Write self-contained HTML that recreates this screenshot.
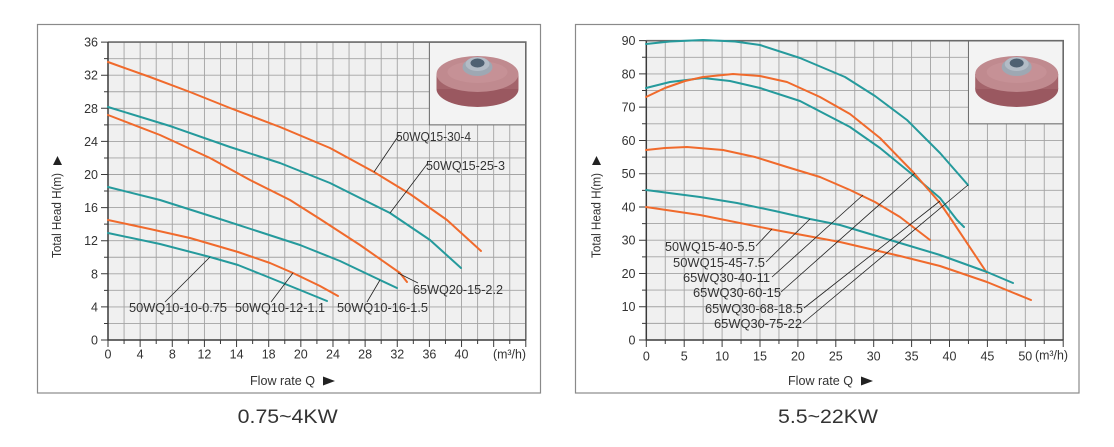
<!DOCTYPE html>
<html><head><meta charset="utf-8"><style>
html,body{margin:0;padding:0;background:#fff;}
svg{display:block;}
text{font-family:"Liberation Sans",sans-serif;fill:#333;}
.t{font-size:12.5px;}
.lab{font-size:12.5px;fill:#2a2a2a;}
</style></head><body>
<svg width="1114" height="447" viewBox="0 0 1114 447" xmlns="http://www.w3.org/2000/svg">
<!-- frames -->
<rect x="37.5" y="24.5" width="503" height="368.5" fill="#fff" stroke="#8a8a8a" stroke-width="1.2"/>
<rect x="575.5" y="24.5" width="503.5" height="368.5" fill="#fff" stroke="#8a8a8a" stroke-width="1.2"/>

<!-- ============ LEFT CHART ============ -->
<rect x="108" y="42.1" width="417.8" height="297.9" fill="#f0f0f0"/>
<path stroke="#a3a3a3" stroke-width="0.9" fill="none" d="
M124.07 42.1V340M140.14 42.1V340M156.21 42.1V340M172.28 42.1V340M188.35 42.1V340M204.42 42.1V340M220.49 42.1V340M236.56 42.1V340M252.63 42.1V340M268.7 42.1V340M284.77 42.1V340M300.84 42.1V340M316.91 42.1V340M332.98 42.1V340M349.05 42.1V340M365.12 42.1V340M381.19 42.1V340M397.26 42.1V340M413.33 42.1V340M429.4 42.1V340M445.47 42.1V340M461.54 42.1V340M477.61 42.1V340M493.68 42.1V340M509.75 42.1V340
M108 323.45H525.8M108 306.9H525.8M108 290.35H525.8M108 273.8H525.8M108 257.25H525.8M108 240.7H525.8M108 224.15H525.8M108 207.6H525.8M108 191.05H525.8M108 174.5H525.8M108 157.95H525.8M108 141.4H525.8M108 124.85H525.8M108 108.3H525.8M108 91.75H525.8M108 75.2H525.8M108 58.65H525.8"/>
<!-- photo box -->
<rect x="429.4" y="42.1" width="96.4" height="82.75" fill="#f3f3f3" stroke="#6a6a6a" stroke-width="1"/>
<g>
<ellipse cx="477.5" cy="89" rx="41" ry="18" fill="#9a5860"/>
<rect x="436.5" y="74" width="82" height="15" fill="#a4646b"/>
<ellipse cx="477.5" cy="74" rx="41" ry="18" fill="#c08a8f"/>
<ellipse cx="477.5" cy="72" rx="30" ry="11" fill="#c99499" opacity="0.7"/>
<ellipse cx="477.5" cy="67" rx="15" ry="9" fill="#9ea8b3"/>
<ellipse cx="477.5" cy="64" rx="12" ry="7" fill="#b3bcc6"/>
<ellipse cx="477.5" cy="63" rx="7" ry="4.5" fill="#4f6172"/>
</g>
<!-- borders / axes -->
<path d="M108 42.1H525.8V340" stroke="#6a6a6a" stroke-width="1.6" fill="none"/>
<path d="M108 42.1V340H525.8" stroke="#3a3a3a" stroke-width="1.5" fill="none"/>
<!-- ticks -->
<path stroke="#3a3a3a" stroke-width="1" fill="none" d="
M101 340H108M101 306.9H108M101 273.8H108M101 240.7H108M101 207.6H108M101 174.5H108M101 141.4H108M101 108.3H108M101 75.2H108M101 42.1H108
M104 323.45H108M104 290.35H108M104 257.25H108M104 224.15H108M104 191.05H108M104 157.95H108M104 124.85H108M104 91.75H108M104 58.65H108
M108 340V347M140.14 340V347M172.28 340V347M204.42 340V347M236.56 340V347M268.7 340V347M300.84 340V347M332.98 340V347M365.12 340V347M397.26 340V347M429.4 340V347M461.54 340V347M493.68 340V347M525.8 340V347
M124.07 340V344M156.21 340V344M188.35 340V344M220.49 340V344M252.63 340V344M284.77 340V344M316.91 340V344M349.05 340V344M381.19 340V344M413.33 340V344M445.47 340V344M477.61 340V344M509.75 340V344"/>
<!-- y labels -->
<g class="t" text-anchor="end">
<text x="98" y="344.5">0</text><text x="98" y="311.4">4</text><text x="98" y="278.3">8</text>
<text x="98" y="245.2">12</text><text x="98" y="212.1">16</text><text x="98" y="179">20</text>
<text x="98" y="145.9">24</text><text x="98" y="112.8">28</text><text x="98" y="79.7">32</text><text x="98" y="46.6">36</text>
</g>
<g class="t" text-anchor="middle">
<text x="108" y="358.5">0</text><text x="140.1" y="358.5">4</text><text x="172.3" y="358.5">8</text>
<text x="204.4" y="358.5">12</text><text x="236.6" y="358.5">14</text><text x="268.7" y="358.5">18</text>
<text x="300.8" y="358.5">20</text><text x="333" y="358.5">24</text><text x="365.1" y="358.5">28</text>
<text x="397.3" y="358.5">32</text><text x="429.4" y="358.5">36</text><text x="461.5" y="358.5">40</text>
</g>
<text class="t" x="493" y="358.5" textLength="33" lengthAdjust="spacingAndGlyphs">(m³/h)</text>
<text class="t" x="250" y="385" textLength="65" lengthAdjust="spacingAndGlyphs">Flow rate Q</text>
<polygon points="323,376.5 335,381 323,385.5" fill="#222"/>
<text class="t" transform="translate(61,258) rotate(-90)" textLength="85" lengthAdjust="spacingAndGlyphs">Total Head H(m)</text>
<polygon points="57.5,156 53,165 62,165" fill="#222"/>
<text x="237.7" y="423" font-size="19" textLength="100" lengthAdjust="spacingAndGlyphs">0.75~4KW</text>

<!-- curves left -->
<g fill="none" stroke-width="2" stroke-linejoin="round" stroke-linecap="round">
<polyline stroke="#f06a2c" points="108,62 150,77 190,92 230,108 280,127 330,148 374,172 410,194 447,220 481,251"/>
<polyline stroke="#259a9c" points="108,107 170,126 230,147 280,163 330,183 390,213 430,240 461,268"/>
<polyline stroke="#f06a2c" points="108,115 160,135 210,158 250,180 290,200 320,219 360,245 400,273 407,282"/>
<polyline stroke="#259a9c" points="108,187 160,200 223,220 260,232 300,245 340,261 380,280 397,288"/>
<polyline stroke="#f06a2c" points="108,220 150,229 190,238 238,252 270,263 293,273 320,286 338,296"/>
<polyline stroke="#259a9c" points="108,233 160,244 210,257 238,265 263,275 300,290 327,301"/>
</g>
<!-- leaders left -->
<g stroke="#222" stroke-width="0.8" fill="none">
<path d="M165 302L210 257M271 302L293 273M367 302L380 280M418 283L398 273M399 135L374 172M428 163L390 213"/>
</g>
<g class="lab">
<text x="129" y="312" textLength="98" lengthAdjust="spacingAndGlyphs">50WQ10-10-0.75</text>
<text x="235" y="312" textLength="90" lengthAdjust="spacingAndGlyphs">50WQ10-12-1.1</text>
<text x="337" y="312" textLength="91" lengthAdjust="spacingAndGlyphs">50WQ10-16-1.5</text>
<text x="413" y="294" textLength="90" lengthAdjust="spacingAndGlyphs">65WQ20-15-2.2</text>
<text x="396" y="141" textLength="75" lengthAdjust="spacingAndGlyphs">50WQ15-30-4</text>
<text x="426" y="170" textLength="79" lengthAdjust="spacingAndGlyphs">50WQ15-25-3</text>
</g>

<!-- ============ RIGHT CHART ============ -->
<rect x="646.3" y="40.66" width="416.9" height="299.34" fill="#f0f0f0"/>
<path stroke="#a3a3a3" stroke-width="0.9" fill="none" d="
M665.25 40.66V340M684.2 40.66V340M703.15 40.66V340M722.1 40.66V340M741.05 40.66V340M760 40.66V340M778.95 40.66V340M797.9 40.66V340M816.85 40.66V340M835.8 40.66V340M854.75 40.66V340M873.7 40.66V340M892.65 40.66V340M911.6 40.66V340M930.55 40.66V340M949.5 40.66V340M968.45 40.66V340M987.4 40.66V340M1006.35 40.66V340M1025.3 40.66V340M1044.25 40.66V340
M646.3 323.37H1063.2M646.3 306.74H1063.2M646.3 290.11H1063.2M646.3 273.48H1063.2M646.3 256.85H1063.2M646.3 240.22H1063.2M646.3 223.59H1063.2M646.3 206.96H1063.2M646.3 190.33H1063.2M646.3 173.7H1063.2M646.3 157.07H1063.2M646.3 140.44H1063.2M646.3 123.81H1063.2M646.3 107.18H1063.2M646.3 90.55H1063.2M646.3 73.92H1063.2M646.3 57.29H1063.2"/>
<rect x="968.45" y="40.66" width="94.75" height="83.15" fill="#f3f3f3" stroke="#6a6a6a" stroke-width="1"/>
<g>
<ellipse cx="1016.7" cy="89" rx="41.5" ry="18" fill="#9a5860"/>
<rect x="975.2" y="74" width="83" height="15" fill="#a4646b"/>
<ellipse cx="1016.7" cy="74" rx="41.5" ry="18" fill="#c08a8f"/>
<ellipse cx="1016.7" cy="72" rx="30" ry="11" fill="#c99499" opacity="0.7"/>
<ellipse cx="1016.7" cy="67" rx="15" ry="9" fill="#9ea8b3"/>
<ellipse cx="1016.7" cy="64" rx="12" ry="7" fill="#b3bcc6"/>
<ellipse cx="1016.7" cy="63" rx="7" ry="4.5" fill="#4f6172"/>
</g>
<path d="M646.3 40.66H1063.2V340" stroke="#6a6a6a" stroke-width="1.6" fill="none"/>
<path d="M646.3 40.66V340H1063.2" stroke="#3a3a3a" stroke-width="1.5" fill="none"/>
<path stroke="#3a3a3a" stroke-width="1" fill="none" d="
M639 340H646.3M639 306.74H646.3M639 273.48H646.3M639 240.22H646.3M639 206.96H646.3M639 173.7H646.3M639 140.44H646.3M639 107.18H646.3M639 73.92H646.3M639 40.66H646.3
M642 323.37H646.3M642 290.11H646.3M642 256.85H646.3M642 223.59H646.3M642 190.33H646.3M642 157.07H646.3M642 123.81H646.3M642 90.55H646.3M642 57.29H646.3
M646.3 340V347M684.2 340V347M722.1 340V347M760 340V347M797.9 340V347M835.8 340V347M873.7 340V347M911.6 340V347M949.5 340V347M987.4 340V347M1025.3 340V347M1063.2 340V347
M665.25 340V344M703.15 340V344M741.05 340V344M778.95 340V344M816.85 340V344M854.75 340V344M892.65 340V344M930.55 340V344M968.45 340V344M1006.35 340V344M1044.25 340V344"/>
<g class="t" text-anchor="end">
<text x="635.5" y="344.5">0</text><text x="635.5" y="311.2">10</text><text x="635.5" y="278">20</text>
<text x="635.5" y="244.7">30</text><text x="635.5" y="211.5">40</text><text x="635.5" y="178.2">50</text>
<text x="635.5" y="144.9">60</text><text x="635.5" y="111.7">70</text><text x="635.5" y="78.4">80</text><text x="635.5" y="45.2">90</text>
</g>
<g class="t" text-anchor="middle">
<text x="646.3" y="360.5">0</text><text x="684.2" y="360.5">5</text><text x="722.1" y="360.5">10</text>
<text x="760" y="360.5">15</text><text x="797.9" y="360.5">20</text><text x="835.8" y="360.5">25</text>
<text x="873.7" y="360.5">30</text><text x="911.6" y="360.5">35</text><text x="949.5" y="360.5">40</text>
<text x="987.4" y="360.5">45</text><text x="1025.3" y="360.5">50</text>
</g>
<text class="t" x="1035" y="359.5" textLength="33" lengthAdjust="spacingAndGlyphs">(m³/h)</text>
<text class="t" x="788" y="385" textLength="65" lengthAdjust="spacingAndGlyphs">Flow rate Q</text>
<polygon points="861,376.5 873,381 861,385.5" fill="#222"/>
<text class="t" transform="translate(600.5,258) rotate(-90)" textLength="85" lengthAdjust="spacingAndGlyphs">Total Head H(m)</text>
<polygon points="596.5,156 592,165 601,165" fill="#222"/>
<text x="778" y="423" font-size="19" textLength="100" lengthAdjust="spacingAndGlyphs">5.5~22KW</text>

<g fill="none" stroke-width="2" stroke-linejoin="round" stroke-linecap="round">
<polyline stroke="#259a9c" points="646,44 670,41.5 703,40 735,41.5 760,45 800,58 845,77 875,96 907,120 940,153 968,185"/>
<polyline stroke="#259a9c" points="646,88 670,82 703,78 730,81 760,88 800,101 850,127 880,148 913,175 940,198 957,220 964,227"/>
<polyline stroke="#f06a2c" points="646,97 665,88 685,81 703,77 733,74 760,76 787,82 820,97 850,114 880,138 913,172 940,203 953,222 987,273"/>
<polyline stroke="#f06a2c" points="646,150 665,148 687,147 723,150 755,157 787,167 820,177 850,190 875,202 900,217 930,240"/>
<polyline stroke="#259a9c" points="646,190 700,197 737,203 775,211 810,219 840,225 870,234 900,243 940,255 987,272 1013,283"/>
<polyline stroke="#f06a2c" points="646,207 700,215 770,229 840,242 900,256 940,266 987,282 1031,300"/>
</g>
<g stroke="#222" stroke-width="0.8" fill="none">
<path d="M756 246L772 229M766 262L810 219M772 277L863 195M781 292L915 173M804 308L940 201M803 323L968 185"/>
</g>
<g class="lab">
<text x="665" y="251" textLength="90" lengthAdjust="spacingAndGlyphs">50WQ15-40-5.5</text>
<text x="673" y="267" textLength="92" lengthAdjust="spacingAndGlyphs">50WQ15-45-7.5</text>
<text x="683" y="282" textLength="87" lengthAdjust="spacingAndGlyphs">65WQ30-40-11</text>
<text x="693" y="297" textLength="88" lengthAdjust="spacingAndGlyphs">65WQ30-60-15</text>
<text x="705" y="313" textLength="98" lengthAdjust="spacingAndGlyphs">65WQ30-68-18.5</text>
<text x="714" y="328" textLength="88" lengthAdjust="spacingAndGlyphs">65WQ30-75-22</text>
</g>
</svg>
</body></html>
